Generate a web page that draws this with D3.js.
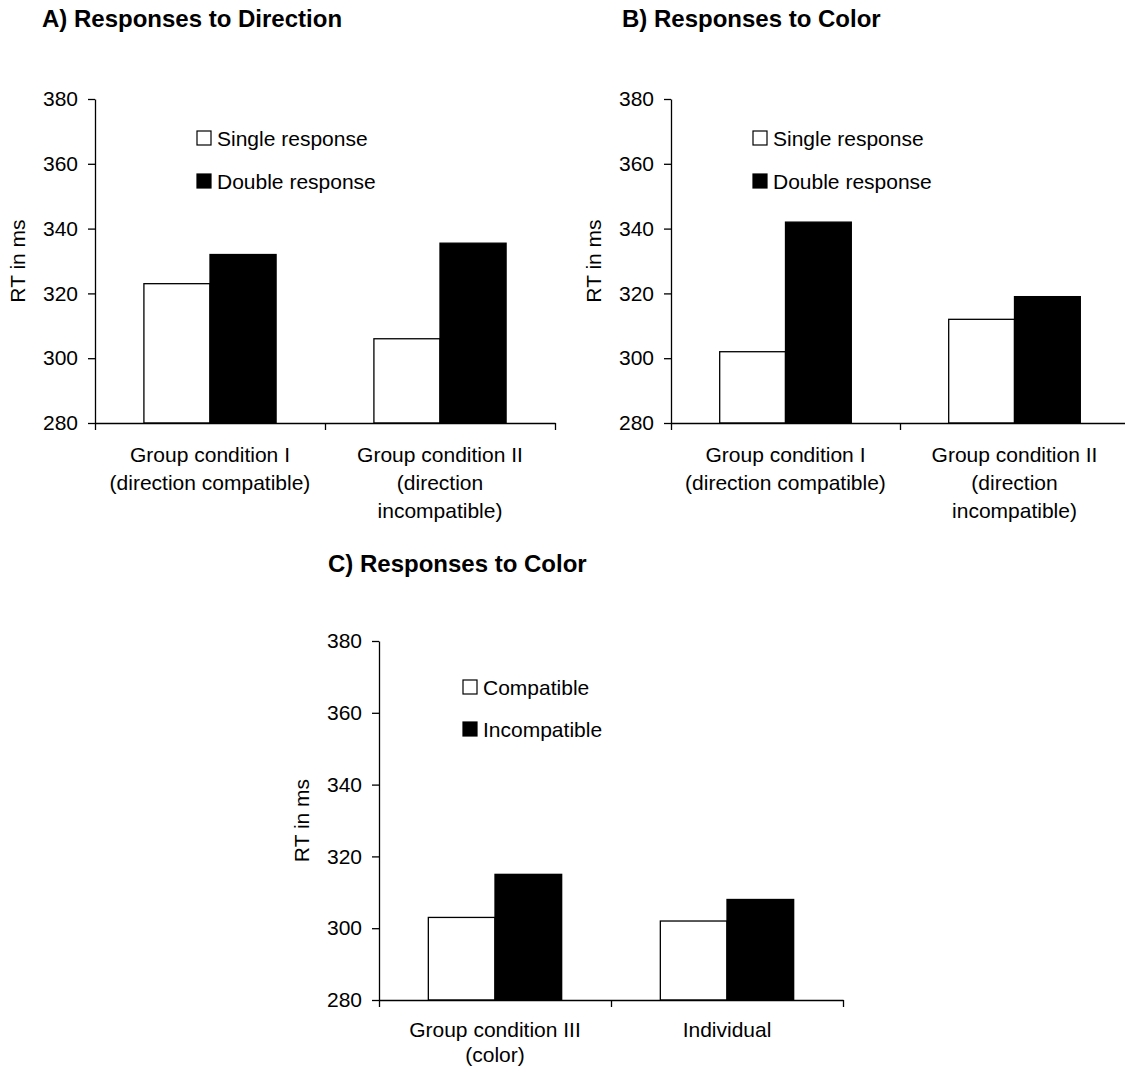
<!DOCTYPE html>
<html>
<head>
<meta charset="utf-8">
<script src="https://cdn.jsdelivr.net/npm/d3@7"></script>
<style>
  body{margin:0;background:#fff;}
  svg{display:block;font-family:"Liberation Sans",Arial,Helvetica,sans-serif;}
</style>
</head>
<body>
<svg id="figure" width="1125" height="1067"></svg>
<script>
// data
const panel_titles=["A) Responses to Direction","B) Responses to Color","C) Responses to Color"];
const groups_ab=["Group condition I","Group condition II"];
const group_lines_ab=[["Group condition I","(direction compatible)"],["Group condition II","(direction","incompatible)"]];
const groups_c=["Group condition III","Individual"];
const group_lines_c=[["Group condition III","(color)"],["Individual"]];
const series_ab=["Single response","Double response"];
const series_c=["Compatible","Incompatible"];
const values_a=[[323,332],[306,335.5]];   // [group][series]
const values_b=[[302,342],[312,319]];
const values_c=[[303,315],[302,308]];
const y_ticks=[280,300,320,340,360,380];
const y_domain=[280,380];
const series_fill=["#fff","#000"];

const svg=d3.select("#figure");

// panel layouts (pixels)
const panels=[
    {title:panel_titles[0],groups:groups_ab,lines:group_lines_ab,series:series_ab,values:values_a,
     left:95,right:555,top:99,bottom:423,title_x:42,title_y:27,legend_x:197,legend_y:[138,181],label_dy:39,line_h:28},
    {title:panel_titles[1],groups:groups_ab,lines:group_lines_ab,series:series_ab,values:values_b,
     left:671,right:1129,top:99,bottom:423,title_x:622,title_y:27,legend_x:753,legend_y:[138,181],label_dy:39,line_h:28},
    {title:panel_titles[2],groups:groups_c,lines:group_lines_c,series:series_c,values:values_c,
     left:379,right:843,top:641,bottom:1000,title_x:328,title_y:572,legend_x:463,legend_y:[687,729],label_dy:37,line_h:25}
];

function draw_panel(p){
    const g=svg.append("g");

    const y=d3.scaleLinear().domain(y_domain).range([p.bottom,p.top]);
    const x0=d3.scaleBand().domain(p.groups).range([p.left,p.right]).padding(0);
    const x1=d3.scaleBand().domain(p.series).range([0,x0.bandwidth()]).paddingInner(0).paddingOuter(0.74);
    const xl=d3.scaleLinear().domain([0,p.groups.length]).range([p.left,p.right]);

    // title
    g.append("text")
        .attr("x",p.title_x)
        .attr("y",p.title_y)
        .attr("font-size",24)
        .attr("font-weight","bold")
        .attr("fill","#000")
        .text(p.title);

    // bars
    p.groups.forEach((grp,i)=>{
        p.series.forEach((s,j)=>{
            const v=p.values[i][j];
            g.append("rect")
                .attr("x",x0(grp)+x1(s))
                .attr("y",y(v))
                .attr("width",x1.bandwidth())
                .attr("height",y(y_domain[0])-y(v))
                .attr("fill",series_fill[j])
                .attr("stroke","#000")
                .attr("stroke-width",1.3);
        });
    });

    // y axis
    const ya=g.append("g")
        .attr("transform",`translate(${p.left},0)`)
        .call(d3.axisLeft(y).tickValues(y_ticks).tickSize(7).tickSizeOuter(0).tickPadding(10));
    ya.selectAll("text").attr("font-size",21).attr("fill","#000").attr("font-family",null);
    ya.selectAll("line,path").attr("stroke","#000").attr("stroke-width",1.3);

    // x axis, ticks at group edges
    const xa=g.append("g")
        .attr("transform",`translate(0,${p.bottom})`)
        .call(d3.axisBottom(xl).ticks(p.groups.length).tickSize(7).tickSizeOuter(0).tickFormat(""));
    xa.selectAll("line,path").attr("stroke","#000").attr("stroke-width",1.3);

    // category labels
    p.groups.forEach((grp,i)=>{
        const cx=x0(grp)+x0.bandwidth()/2;
        const t=g.append("text")
            .attr("x",cx)
            .attr("y",p.bottom+p.label_dy)
            .attr("text-anchor","middle")
            .attr("font-size",21)
            .attr("fill","#000");
        p.lines[i].forEach((ln,k)=>{
            t.append("tspan")
                .attr("x",cx)
                .attr("dy",k===0?0:p.line_h)
                .text(ln);
        });
    });

    // y axis title
    g.append("text")
        .attr("transform","rotate(-90)")
        .attr("x",-(p.top+p.bottom)/2)
        .attr("y",p.left-70)
        .attr("text-anchor","middle")
        .attr("font-size",21)
        .attr("fill","#000")
        .text("RT in ms");

    // legend
    p.series.forEach((s,j)=>{
        const ly=p.legend_y[j];
        g.append("rect")
            .attr("x",p.legend_x)
            .attr("y",ly-7)
            .attr("width",14)
            .attr("height",14)
            .attr("fill",series_fill[j])
            .attr("stroke","#000")
            .attr("stroke-width",1.2);
        g.append("text")
            .attr("x",p.legend_x+20)
            .attr("y",ly+7.5)
            .attr("font-size",21)
            .attr("fill","#000")
            .text(s);
    });
}

panels.forEach(draw_panel);
</script>
</body>
</html>
